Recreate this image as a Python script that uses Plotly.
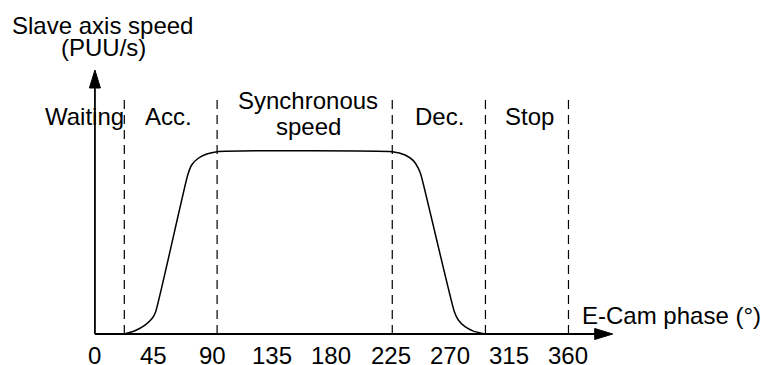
import plotly.graph_objects as go

# ---- data ----
phase = [23.0, 31.1, 38.7, 44.2, 46.8, 71.1, 74.1, 79.1, 85.5, 93.4,
         226.3, 236.0, 242.3, 246.1, 248.1, 273.4, 276.4, 281.5, 287.8, 296.5]
speed = [0.0, 0.018, 0.049, 0.086, 0.122, 0.872, 0.927, 0.964, 0.987, 1.0,
         1.0, 0.982, 0.951, 0.909, 0.872, 0.122, 0.077, 0.040, 0.016, 0.0]
x_ticks = [0, 45, 90, 135, 180, 225, 270, 315, 360]
x_tick_labels = ["0", "45", "90", "135", "180", "225", "270", "315", "360"]
boundaries = [23.0, 93.4, 226.3, 297.0, 360.0]
phase_names = ["Waiting", "Acc.", "Synchronous", "speed", "Dec.", "Stop"]
y_title = ["Slave axis speed", "(PUU/s)"]
x_title = "E-Cam phase (°)"

W, H = 761, 365
X0PX, XSC = 94.0, 1.318     # pixel of phase 0, pixels per degree
Y0PX, YSC = 334.0, 182.3    # pixel of speed 0, pixels per unit speed

def px2x(p):
    return (p - X0PX) / XSC

def px2y(p):
    return (Y0PX - p) / YSC

FONT = "Arial, Liberation Sans, sans-serif"
FS = 24

fig = go.Figure()

# speed profile
fig.add_trace(go.Scatter(x=phase, y=speed, mode="lines",
                         line=dict(color="black", width=1.5, shape="spline", smoothing=0.5),
                         hoverinfo="skip", showlegend=False))

shapes = []
# dashed phase boundaries
for b in boundaries:
    shapes.append(dict(type="line", xref="x", yref="y", x0=b, x1=b, y0=0, y1=px2y(97),
                       line=dict(color="black", width=1.2, dash="9px,6px")))
# axes
x_end = px2x(612.7)
y_end = px2y(70)
shapes.append(dict(type="line", xref="x", yref="y", x0=0.7, x1=x_end - 8 / XSC, y0=0, y1=0,
                   line=dict(color="black", width=1.8)))
shapes.append(dict(type="line", xref="x", yref="y", x0=0.7, x1=0.7, y0=0, y1=y_end - 8 / YSC,
                   line=dict(color="black", width=1.8)))
# arrow heads (pixel-sized paths anchored at axis ends)
shapes.append(dict(type="path", xref="x", yref="y", xsizemode="pixel", ysizemode="pixel",
                   xanchor=0.7, yanchor=y_end, path="M -5.5 -18 L 5.5 -18 L 0 0 Z",
                   fillcolor="black", line=dict(color="black", width=1)))
shapes.append(dict(type="path", xref="x", yref="y", xsizemode="pixel", ysizemode="pixel",
                   xanchor=x_end, yanchor=0, path="M -18 -5.5 L -18 5.5 L 0 0 Z",
                   fillcolor="black", line=dict(color="black", width=1)))

annotations = []
def txt(text, xp, yp, xanchor="center", size=FS):
    annotations.append(dict(text=text, xref="paper", yref="paper", x=xp / W, y=1 - yp / H,
                            xanchor=xanchor, yanchor="middle", showarrow=False,
                            font=dict(family=FONT, size=size, color="black")))

# tick labels
for v, lab in zip(x_ticks, x_tick_labels):
    annotations.append(dict(text=lab, xref="x", yref="y", x=v, y=px2y(355),
                            xanchor="center", yanchor="middle", showarrow=False,
                            font=dict(family=FONT, size=FS, color="black")))

txt(y_title[0], 102, 25)
txt(y_title[1], 103, 47)
txt(phase_names[0], 84, 116)
txt(phase_names[1], 168, 116)
txt(phase_names[2], 308, 101)
txt(phase_names[3], 308, 126)
txt(phase_names[4], 439, 116)
txt(phase_names[5], 529, 116)
txt(x_title, 580, 315, xanchor="left")

fig.update_layout(
    width=W, height=H,
    margin=dict(l=0, r=0, t=0, b=0),
    paper_bgcolor="white", plot_bgcolor="white",
    xaxis=dict(range=[px2x(0), px2x(W)], visible=False, fixedrange=True),
    yaxis=dict(range=[px2y(H), px2y(0)], visible=False, fixedrange=True),
    shapes=shapes, annotations=annotations, showlegend=False,
)

fig.write_html("out.html", config={"displayModeBar": False},
               post_script="document.body.style.margin='0';document.body.style.overflow='hidden';")
